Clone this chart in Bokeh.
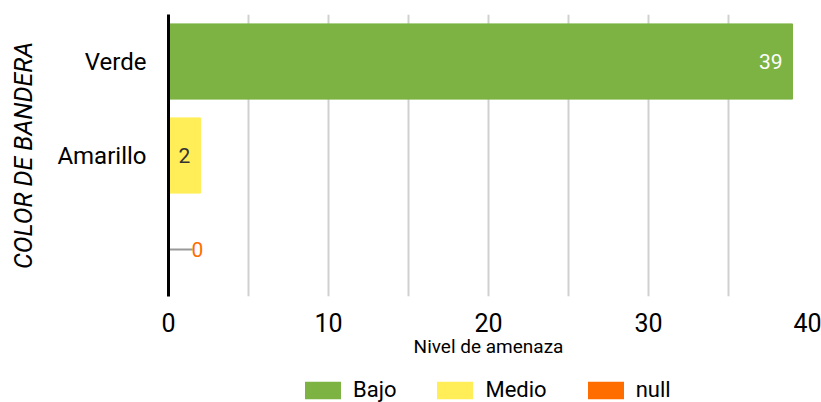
from bokeh.plotting import figure
from bokeh.layouts import column
from bokeh.models import (ColumnDataSource, FactorRange, Range1d, SingleIntervalTicker,
                          Legend, LegendItem)
from bokeh.embed import file_html
from bokeh.resources import INLINE

# ---- data ----
categories = ["Verde", "Amarillo", " "]
series = ["Bajo", "Medio", "null"]
values = [39, 2, 0]
colors = ["#7cb342", "#ffee58", "#ff6d00"]
label_colors = ["#ffffff", "#333333", "#ff6d00"]

factors = list(reversed(categories))

p = figure(frame_width=640, frame_height=282, output_backend="svg", toolbar_location=None,
           y_range=FactorRange(factors=factors, range_padding=0),
           x_range=Range1d(0, 40),
           min_border_left=168, min_border_right=13, min_border_top=14, min_border_bottom=74)
p.outline_line_color = None

# bars
for cat, val, col in zip(categories, values, colors):
    src = ColumnDataSource(dict(y=[cat], right=[val]))
    p.hbar(y="y", right="right", left=0, height=0.8, color=col, source=src)

# value labels
src_v = ColumnDataSource(dict(y=[categories[0]], x=[values[0]], t=[str(values[0])]))
p.text(x="x", y="y", text="t", source=src_v, text_align="right", text_baseline="middle",
       x_offset=-10, text_color=label_colors[0], text_font_size="21px", text_font={"value": "Roboto"})
src_m = ColumnDataSource(dict(y=[categories[1]], x=[values[1] / 2], t=[str(values[1])]))
p.text(x="x", y="y", text="t", source=src_m, text_align="center", text_baseline="middle",
       text_color=label_colors[1], text_font_size="21px", text_font={"value": "Roboto"})
src_n = ColumnDataSource(dict(y=[categories[2]], x0=[values[2]], x1=[values[2] + 1.5],
                              t=[str(values[2])]))
p.segment(x0="x0", y0="y", x1="x1", y1="y", source=src_n, line_color="#999999", line_width=2)
p.text(x="x1", y="y", text="t", source=src_n, text_align="left", text_baseline="middle",
       x_offset=-1, text_color=label_colors[2], text_font_size="21px", text_font={"value": "Roboto"})

# grid
p.ygrid.visible = False
p.xgrid.ticker = SingleIntervalTicker(interval=5)
p.xgrid.grid_line_color = "#d0d0d0"
p.xgrid.grid_line_width = 2

# x axis
p.xaxis.ticker = SingleIntervalTicker(interval=10)
p.xaxis.axis_line_color = None
p.xaxis.major_tick_line_color = None
p.xaxis.minor_tick_line_color = None
p.xaxis.major_label_standoff = 10
p.xaxis.major_label_text_font = "Roboto"
p.xaxis.major_label_text_font_size = "25px"
p.xaxis.major_label_text_color = "#000000"
p.xaxis.axis_label = "Nivel de amenaza"
p.xaxis.axis_label_text_font = "Roboto"
p.xaxis.axis_label_text_font_size = "19px"
p.xaxis.axis_label_text_font_style = "normal"
p.xaxis.axis_label_text_color = "#000000"
p.xaxis.axis_label_standoff = 0

# y axis
p.yaxis.axis_line_color = "#000000"
p.yaxis.axis_line_width = 3
p.yaxis.major_tick_line_color = None
p.yaxis.minor_tick_line_color = None
p.yaxis.major_label_standoff = 16
p.yaxis.major_label_text_font = "Roboto"
p.yaxis.major_label_text_font_size = "24px"
p.yaxis.major_label_text_color = "#000000"
p.yaxis.axis_label = "COLOR DE BANDERA"
p.yaxis.axis_label_text_font = "Roboto"
p.yaxis.axis_label_text_font_size = "25px"
p.yaxis.axis_label_text_font_style = "italic"
p.yaxis.axis_label_text_color = "#000000"
p.yaxis.axis_label_standoff = 16

# legend strip below the chart (its zero-height bars lie outside its visible x range)
lg = figure(width=821, height=32, output_backend="svg", toolbar_location=None,
            x_axis_type=None, y_axis_type=None, min_border=0,
            x_range=Range1d(100, 200), y_range=FactorRange(factors=factors))
lg.outline_line_color = None
lg.grid.visible = False
leg_renderers = []
for cat, val, col in zip(categories, values, colors):
    r = lg.hbar(y="y", right="right", left=0, height=0, fill_color=col, line_color=None,
                source=ColumnDataSource(dict(y=[cat], right=[val])))
    leg_renderers.append(r)
legend = Legend(items=[LegendItem(label=s, renderers=[r]) for s, r in zip(series, leg_renderers)],
                orientation="horizontal", location=(132, 0),
                glyph_width=45, glyph_height=22, label_standoff=8, spacing=36,
                label_text_font="Roboto", label_text_font_size="22px",
                label_text_color="#000000", padding=0, margin=0,
                border_line_color=None, background_fill_alpha=0)
lg.add_layout(legend, "center")

layout = column(p, lg, spacing=0)
open("out.html", "w").write(file_html(layout, INLINE))
